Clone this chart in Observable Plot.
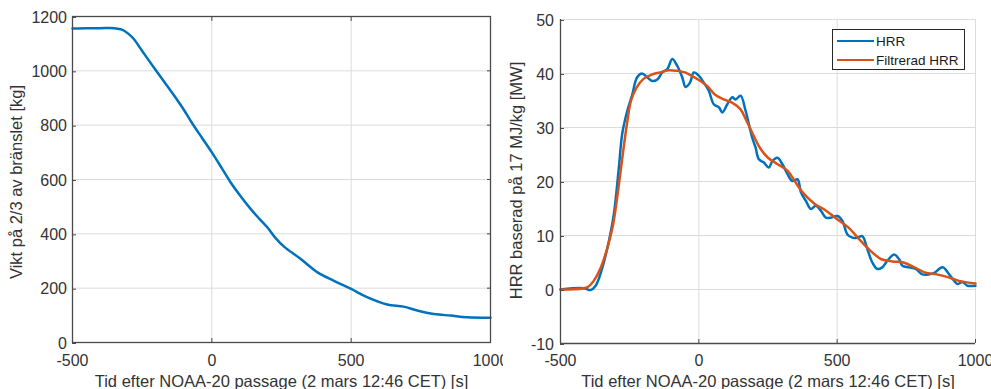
<!DOCTYPE html>
<html>
<head>
<meta charset="utf-8">
<script src="https://cdn.jsdelivr.net/npm/d3@7"></script>
<script src="https://cdn.jsdelivr.net/npm/@observablehq/plot@0.6"></script>
<style>
  html, body { margin: 0; padding: 0; background: #fff; }
  #wrap { position: relative; width: 991px; height: 389px; overflow: hidden; font-family: "Liberation Sans", Arial, sans-serif; }
  #left { position: absolute; left: 0; top: 0; width: 503px; height: 389px; overflow: hidden; }
  #right { position: absolute; left: 500px; top: 0; width: 491px; height: 389px; }
  #left svg, #right svg { max-width: none !important; }
  #legend { position: absolute; left: 832px; top: 29px; width: 131px; height: 39px; border: 1px solid #262626; background: #fff; }
  #legend svg { display: block; }
</style>
</head>
<body>
<div id="wrap">
  <div id="left"></div>
  <div id="right"></div>
  <div id="legend">
    <svg width="131" height="39">
      <line x1="4" x2="41" y1="11" y2="11" stroke="#0072BD" stroke-width="2"/>
      <text x="43" y="16" font-size="13.5" fill="#1a1a1a" font-family="Liberation Sans, Arial, sans-serif">HRR</text>
      <line x1="4" x2="41" y1="30" y2="30" stroke="#D95319" stroke-width="2"/>
      <text x="43" y="35" font-size="13.5" fill="#1a1a1a" font-family="Liberation Sans, Arial, sans-serif">Filtrerad HRR</text>
    </svg>
  </div>
</div>
<script>
// ---- data ----
const xTicks = [-500, 0, 500, 1000];
const weightTicks = [0, 200, 400, 600, 800, 1000, 1200];
const hrrTicks = [-10, 0, 10, 20, 30, 40, 50];

const xLabel = "Tid efter NOAA-20 passage (2 mars 12:46 CET) [s]";
const weightLabel = "Vikt på 2/3 av bränslet [kg]";
const hrrLabel = "HRR baserad på 17 MJ/kg [MW]";

const weightTime = [-500, -450, -400, -350, -320, -299, -280, -250, -208, -184, -136, -100, -70, -35, 0, 35, 67, 100, 139, 170, 199, 228, 260, 318, 378, 440, 500, 557, 629, 688, 737, 797, 857, 916, 1000];
const weightKg   = [1156, 1157, 1157, 1157, 1151, 1136, 1117, 1073, 1012, 978, 910, 856, 806, 753, 700, 643, 590, 543, 492, 456, 424, 385, 352, 308, 259, 226, 197, 167, 140, 132, 118, 105, 99, 93, 91];

const hrrTime = [-500, -416, -391, -373, -349, -325, -307, -289, -277, -259, -241, -223, -205, -187, -168, -150, -132, -114, -96, -78, -60, -48, -32, -18, 0, 18, 36, 54, 73, 85, 103, 121, 133, 151, 169, 193, 205, 217, 235, 253, 266, 284, 302, 320, 338, 357, 369, 387, 405, 423, 441, 459, 477, 501, 519, 537, 555, 573, 591, 609, 627, 645, 663, 681, 706, 724, 736, 760, 784, 808, 832, 851, 881, 905, 923, 935, 953, 971, 1000];
const hrrMW   = [0, 0.25, -0.1, 0.7, 4, 9, 14, 22.6, 28.8, 33, 36, 39.3, 40, 39.3, 38.6, 38.9, 40.2, 40.8, 42.7, 41.4, 39.3, 37.5, 38.3, 40.2, 39.6, 38.3, 36.8, 34.3, 33.7, 32.8, 34.3, 35.6, 35.2, 35.9, 33.1, 28.1, 26.3, 24.1, 23.5, 22.6, 23.8, 24.4, 23.2, 21.4, 20.1, 20.4, 18, 16.4, 14.9, 15.5, 14.6, 13.3, 13.3, 13.6, 12.7, 10.2, 9.6, 9.6, 9.9, 7.5, 5, 3.8, 4.1, 5.3, 6.5, 5.6, 4.4, 4.1, 3.8, 2.8, 2.8, 3.1, 4.1, 2.8, 1.6, 1, 1.4, 0.7, 0.7];

const filtTime = [-500, -420, -400, -380, -355, -330, -310, -290, -275, -260, -245, -225, -200, -170, -140, -110, -80, -50, -20, 0, 30, 60, 90, 120, 150, 170, 195, 220, 250, 285, 320, 350, 380, 420, 460, 500, 540, 580, 620, 660, 700, 740, 780, 820, 860, 900, 940, 1000];
const filtMW   = [0, 0.2, 0.5, 1.6, 4, 7.8, 12, 19, 25, 30.6, 35, 37.4, 39, 39.8, 40.2, 40.6, 40.5, 40.2, 39.4, 38.8, 37.7, 36, 35.2, 34.6, 33.4, 31.5, 28.8, 26.3, 24.4, 23.2, 22, 19.8, 17.7, 15.8, 14.6, 13, 11.5, 9.3, 7.2, 5.6, 5.2, 5, 4.1, 3.1, 2.8, 2.3, 1.6, 1.1];

// ---- build tables ----
const weight = weightTime.map((t, i) => ({t, v: weightKg[i]}));
const hrr = hrrTime.map((t, i) => ({t, v: hrrMW[i]}));
const filt = filtTime.map((t, i) => ({t, v: filtMW[i]}));

const FONT = "Liberation Sans, Arial, sans-serif";
const GRID = "#dcdcdc";
const AX = "#4a4a4a";
const TXT = "#333";
const BLUE = "#0072BD";
const ORANGE = "#D95319";
const fmt = d => String(d);

const left = Plot.plot({
  width: 520, height: 389,
  marginLeft: 72, marginRight: 30, marginTop: 16, marginBottom: 47,
  style: {fontFamily: FONT, fontSize: "16px", color: TXT, background: "transparent", overflow: "visible", maxWidth: "none"},
  x: {domain: [-500, 1000]},
  y: {domain: [0, 1200]},
  marks: [
    Plot.gridX(xTicks, {stroke: GRID, strokeOpacity: 1}),
    Plot.gridY(weightTicks, {stroke: GRID, strokeOpacity: 1}),
    Plot.line(weight, {x: "t", y: "v", stroke: BLUE, strokeWidth: 2.5, curve: "catmull-rom"}),
    Plot.frame({stroke: AX, strokeWidth: 1.3}),
    Plot.axisX(xTicks, {anchor: "bottom", tickSize: -4, tickPadding: 16.3, stroke: AX, fill: TXT, label: null, tickFormat: fmt}),
    Plot.axisX(xTicks, {anchor: "top", tickSize: -4, stroke: AX, label: null, tickFormat: () => ""}),
    Plot.axisY(weightTicks, {anchor: "left", tickSize: -4, tickPadding: 9.5, stroke: AX, fill: TXT, label: null, tickFormat: fmt, dy: 1}),
    Plot.axisY(weightTicks, {anchor: "right", tickSize: -4, stroke: AX, label: null, tickFormat: () => ""}),
    Plot.text([xLabel], {frameAnchor: "bottom", dy: 44.5, lineAnchor: "bottom", fontSize: 16.5, fill: TXT, text: d => d}),
    Plot.text([weightLabel], {frameAnchor: "left", dx: -50.5, dy: 2.5, rotate: -90, lineAnchor: "bottom", textAnchor: "middle", fontSize: 16.5, fill: TXT, text: d => d})
  ]
});
document.getElementById("left").appendChild(left);

const right = Plot.plot({
  width: 491, height: 389,
  marginLeft: 60, marginRight: 16, marginTop: 19, marginBottom: 46,
  style: {fontFamily: FONT, fontSize: "16px", color: TXT, background: "transparent", overflow: "visible", maxWidth: "none"},
  x: {domain: [-500, 1000]},
  y: {domain: [-10, 50]},
  marks: [
    Plot.gridX(xTicks, {stroke: GRID, strokeOpacity: 1}),
    Plot.gridY(hrrTicks, {stroke: GRID, strokeOpacity: 1}),
    Plot.line(hrr, {x: "t", y: "v", stroke: BLUE, strokeWidth: 2.5, curve: "catmull-rom"}),
    Plot.line(filt, {x: "t", y: "v", stroke: ORANGE, strokeWidth: 2.5, curve: "catmull-rom"}),
    Plot.ruleX([-500], {stroke: AX, strokeWidth: 1.3}),
    Plot.ruleY([-10], {stroke: AX, strokeWidth: 1.3}),
    Plot.axisX(xTicks, {anchor: "bottom", tickSize: -4, tickPadding: 15, stroke: AX, fill: TXT, label: null, tickFormat: fmt}),
    Plot.axisY(hrrTicks, {anchor: "left", tickSize: -4, tickPadding: 10.5, stroke: AX, fill: TXT, label: null, tickFormat: fmt, dy: 1}),
    Plot.text([xLabel], {frameAnchor: "bottom", dy: 43.5, lineAnchor: "bottom", fontSize: 16.5, fill: TXT, text: d => d}),
    Plot.text([hrrLabel], {frameAnchor: "left", dx: -38.5, dy: -1, rotate: -90, lineAnchor: "bottom", textAnchor: "middle", fontSize: 16.5, fill: TXT, text: d => d})
  ]
});
document.getElementById("right").appendChild(right);
</script>
</body>
</html>
